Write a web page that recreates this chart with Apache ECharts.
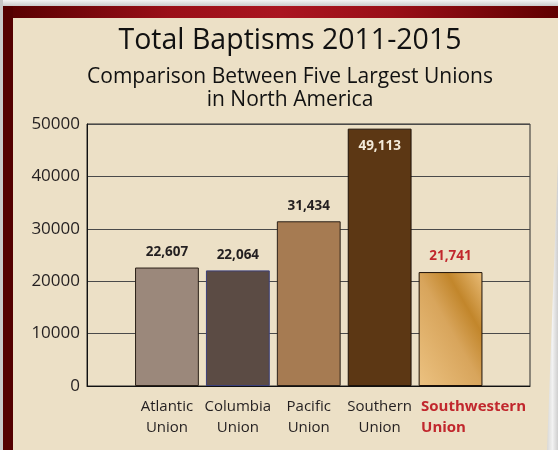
<!DOCTYPE html>
<html>
<head>
<meta charset="utf-8">
<script src="https://cdn.jsdelivr.net/npm/echarts@6/dist/echarts.min.js"></script>
<style>
html,body{margin:0;padding:0;background:#fff;}
#chart{width:558px;height:450px;}
</style>
</head>
<body>
<div id="chart"></div>
<script>
const titleText = 'Total Baptisms 2011-2015';
const subtitleLines = ['Comparison Between Five Largest Unions', 'in North America'];
const categories = ['Atlantic\nUnion', 'Columbia\nUnion', 'Pacific\nUnion', 'Southern\nUnion', 'Southwestern\nUnion'];
const baptisms = [22607, 22064, 31434, 49113, 21741];
const yTicks = [0, 10000, 20000, 30000, 40000, 50000];

const FONT = 'Open Sans';
const barFills = [
  '#9B887B',
  '#5B4B44',
  '#A67B52',
  '#5C3714',
  { type: 'linear', x: 0, y: 1, x2: 1.51, y2: 0.515, colorStops: [
    { offset: 0, color: '#ECC281' },
    { offset: 0.5, color: '#D8A55C' },
    { offset: 0.73, color: '#C2862B' },
    { offset: 1, color: '#E8BB76' }
  ] }
];
const barBorders = ['#2B2118', '#3B3F7A', '#2B2118', '#1E1208', '#1E1208'];
const highlightIndex = 4;

const chart = echarts.init(document.getElementById('chart'), null, { renderer: 'canvas' });

const barData = baptisms.map((v, i) => {
  const item = {
    value: v,
    itemStyle: { color: barFills[i], borderColor: barBorders[i], borderWidth: 1 }
  };
  if (i === 3) {
    item.label = { position: 'insideTop', distance: 11, color: '#F4EBDA' };
  } else if (i === highlightIndex) {
    item.label = { color: '#C1272D', distance: 9 };
  }
  return item;
});

chart.setOption({
  animation: false,
  backgroundColor: 'transparent',
  graphic: [
    { type: 'rect', z: -10, shape: { x: 0, y: 0, width: 558, height: 8 },
      style: { fill: { type: 'linear', x: 0, y: 0, x2: 0, y2: 1, colorStops: [{ offset: 0, color: '#F4F4F4' }, { offset: 1, color: '#BEBEBE' }] } } },
    { type: 'rect', z: -10, shape: { x: 0, y: 0, width: 3, height: 450 }, style: { fill: '#C8C8C8' } },
    { type: 'rect', z: -9, shape: { x: 3, y: 6, width: 555, height: 12 },
      style: { fill: { type: 'linear', x: 0, y: 0, x2: 1, y2: 0, colorStops: [
        { offset: 0, color: '#560000' }, { offset: 0.3, color: '#9A0F18' }, { offset: 0.5, color: '#AA1520' }, { offset: 0.7, color: '#9A0F18' }, { offset: 1, color: '#600000' }] } } },
    { type: 'rect', z: -9, shape: { x: 3, y: 6, width: 10, height: 444 }, style: { fill: '#540000' } },
    { type: 'rect', z: -8, shape: { x: 13, y: 18, width: 545, height: 432 }, style: { fill: '#ECE0C6' } },
    { type: 'polygon', z: -7, shape: { points: [[558, 160], [547, 450], [558, 450]] },
      style: { fill: { type: 'linear', x: 0, y: 0, x2: 1, y2: 0, colorStops: [{ offset: 0, color: '#D8D8D6' }, { offset: 0.5, color: '#F2F2F2' }, { offset: 1, color: '#CFCFCF' }] } } },
    { type: 'text', x: 290, y: 41, style: { text: titleText, font: '28.5px "' + FONT + '"', fill: '#111', align: 'center', verticalAlign: 'middle' } },
    { type: 'text', x: 290, y: 77, style: { text: subtitleLines[0], font: '21px "' + FONT + '"', fill: '#111', align: 'center', verticalAlign: 'middle' } },
    { type: 'text', x: 290, y: 100, style: { text: subtitleLines[1], font: '21px "' + FONT + '"', fill: '#111', align: 'center', verticalAlign: 'middle' } }
  ],
  grid: [
    { left: 87, right: 28, top: 124, bottom: 64, show: true, borderColor: '#2a2a2a', borderWidth: 1, backgroundColor: 'transparent' },
    { left: 131.5, right: 72, top: 124, bottom: 64 }
  ],
  xAxis: [
    { gridIndex: 0, type: 'category', data: categories, axisLine: { lineStyle: { color: '#111', width: 1 } }, axisTick: { show: false }, axisLabel: { show: false } },
    { gridIndex: 1, type: 'category', data: categories, axisLine: { show: false }, axisTick: { show: false },
      axisLabel: {
        color: '#231F20', fontFamily: FONT, fontSize: 15, lineHeight: 21, margin: 10, interval: 0,
        formatter: (val, idx) => {
          if (idx === highlightIndex) {
            return val.split('\n').map(s => '{sp| }{hl|' + s + '}').join('\n');
          }
          return val;
        },
        rich: {
          sp: { width: 46, align: 'left', fontSize: 15, lineHeight: 21 },
          hl: { align: 'left', color: '#C1272D', fontWeight: 'bold', fontFamily: FONT, fontSize: 15, lineHeight: 21 }
        }
      } }
  ],
  yAxis: [
    { gridIndex: 0, type: 'value', min: yTicks[0], max: yTicks[yTicks.length - 1], interval: yTicks[1] - yTicks[0],
      axisLine: { show: true, lineStyle: { color: '#111' } }, axisTick: { show: false },
      axisLabel: { color: '#231F20', fontFamily: FONT, fontSize: 17, margin: 7, formatter: v => String(v) },
      splitLine: { lineStyle: { color: '#4a4a4a', width: 1 } } },
    { gridIndex: 1, type: 'value', min: yTicks[0], max: yTicks[yTicks.length - 1], show: false, splitLine: { show: false } }
  ],
  series: [{
    type: 'bar',
    xAxisIndex: 1,
    yAxisIndex: 1,
    barCategoryGap: '10%',
    data: barData,
    label: {
      show: true, position: 'top', distance: 8,
      fontFamily: FONT, fontSize: 13.5, fontWeight: 'bold', color: '#231F20',
      formatter: p => p.value.toLocaleString('en-US')
    }
  }]
});
</script>
</body>
</html>
